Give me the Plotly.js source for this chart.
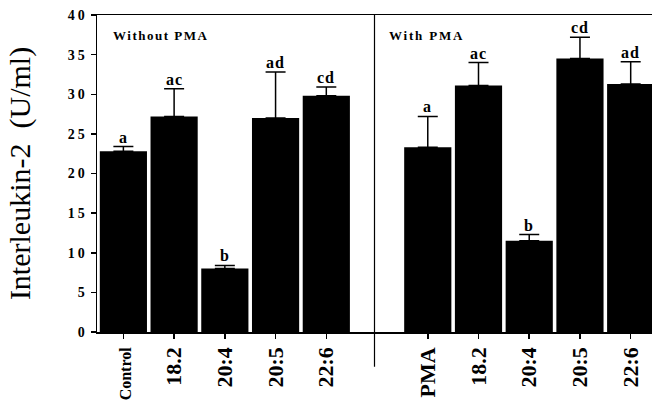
<!DOCTYPE html>
<html>
<head>
<meta charset="utf-8">
<script src="https://cdn.plot.ly/plotly-3.0.1.min.js"></script>
<style>
html,body{margin:0;padding:0;background:#fff;overflow:hidden;}
#chart{width:652px;height:407px;}
</style>
</head>
<body>
<div id="chart"></div>
<script>
// Data
var positions = [0, 1, 2, 3, 4, 6, 7, 8, 9, 10];
var categories = ['Control', '18.2', '20:4', '20:5', '22:6', 'PMA', '18.2', '20:4', '20:5', '22:6'];
var values = [22.8, 27.2, 8.0, 27.0, 29.8, 23.3, 31.1, 11.5, 34.5, 31.3];
var errors = [0.6, 3.5, 0.4, 5.8, 1.1, 3.9, 2.9, 0.8, 2.7, 2.8];
var letters = ['a', 'ac', 'b', 'ad', 'cd', 'a', 'ac', 'b', 'cd', 'ad'];
var panelLabels = ['Without PMA', 'With PMA'];
var yTicks = [0, 5, 10, 15, 20, 25, 30, 35, 40];

var serif = 'Liberation Serif, Times New Roman, serif';

var tickText = categories.map(function (c) {
  if (c === 'Control') return '<span style="font-size:16px">' + c + '</span>';
  return c;
});
var yTickText = yTicks.map(function (v) {
  return '<span style="letter-spacing:3px">' + v + '</span>';
});

var zeros = values.map(function () { return 0; });

var trace = {
  type: 'bar',
  x: positions,
  y: values,
  marker: { color: '#000000', line: { width: 0 } },
  error_y: {
    type: 'data',
    symmetric: false,
    array: errors,
    arrayminus: zeros,
    color: '#000000',
    thickness: 1.5,
    width: 10
  },
  hoverinfo: 'none'
};

var annotations = positions.map(function (p, i) {
  return {
    x: p,
    y: values[i] + errors[i],
    xref: 'x',
    yref: 'y',
    text: '<span style="letter-spacing:1px">' + letters[i] + '</span>',
    showarrow: false,
    yanchor: 'bottom',
    yshift: -1,
    font: { family: serif, size: 16, color: '#000', weight: 'bold' }
  };
});
annotations.push({
  x: -0.24, y: 37.4, xref: 'x', yref: 'y', xanchor: 'left', yanchor: 'middle',
  text: '<span style="letter-spacing:1.5px">' + panelLabels[0] + '</span>', showarrow: false,
  font: { family: serif, size: 13, color: '#000', weight: 'bold' }
});
annotations.push({
  x: 0.19 + 5, y: 37.4, xref: 'x', yref: 'y', xanchor: 'left', yanchor: 'middle',
  text: '<span style="letter-spacing:1.8px">' + panelLabels[1] + '</span>', showarrow: false,
  font: { family: serif, size: 13, color: '#000', weight: 'bold' }
});

var layout = {
  width: 652,
  height: 407,
  margin: { l: 97, r: 0, t: 15, b: 75, pad: 0 },
  paper_bgcolor: '#ffffff',
  plot_bgcolor: '#ffffff',
  showlegend: false,
  bargap: 0.07,
  font: { family: serif, color: '#000' },
  xaxis: {
    range: [-0.52, 10.42],
    tickmode: 'array',
    tickvals: positions,
    ticktext: tickText,
    tickangle: -90,
    ticks: 'outside',
    ticklen: 5,
    tickwidth: 1.5,
    tickcolor: '#000',
    showline: true,
    linecolor: '#000',
    linewidth: 1.5,
    mirror: true,
    showgrid: false,
    zeroline: false,
    tickfont: { family: serif, size: 22, color: '#000', weight: 'bold' },
    automargin: false,
    fixedrange: true
  },
  yaxis: {
    range: [0, 40],
    tickmode: 'array',
    tickvals: yTicks,
    ticktext: yTickText,
    ticks: 'outside',
    ticklen: 5,
    tickwidth: 1.5,
    tickcolor: '#000',
    showline: true,
    linecolor: '#000',
    linewidth: 1.5,
    showgrid: false,
    zeroline: false,
    tickfont: { family: serif, size: 14, color: '#000', weight: 'bold' },
    title: { text: 'Interleukin-2  (U/ml)', font: { family: serif, size: 30, color: '#000' }, standoff: 28 },
    automargin: true,
    fixedrange: true
  },
  shapes: [{
    type: 'line', xref: 'x', yref: 'paper',
    x0: 4.95, x1: 4.95, y0: -0.11, y1: 1,
    line: { color: '#000', width: 1.2 }
  }],
  annotations: annotations
};

Plotly.newPlot('chart', [trace], layout, { displayModeBar: false, staticPlot: true });
</script>
</body>
</html>
